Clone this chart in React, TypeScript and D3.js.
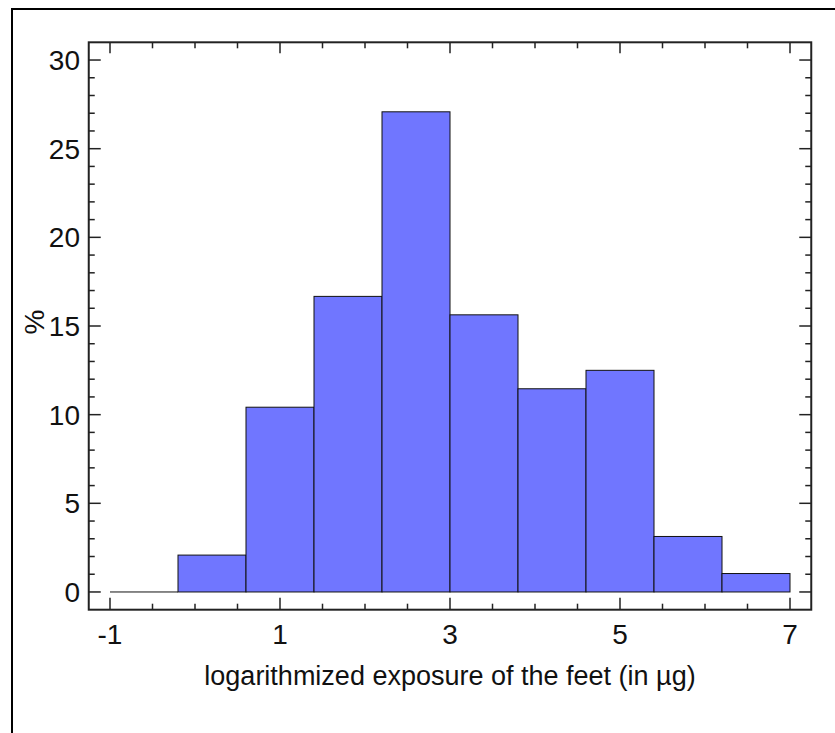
import React from "react";
import * as d3 from "d3";

const binEdges = [-1, -0.2, 0.6, 1.4, 2.2, 3.0, 3.8, 4.6, 5.4, 6.2, 7.0];
const percentages = [0, 2.08, 10.42, 16.67, 27.08, 15.63, 11.46, 12.5, 3.13, 1.04];
const xMajorTicks = [-1, 1, 3, 5, 7];
const yMajorTicks = [0, 5, 10, 15, 20, 25, 30];
const xLabel = "logarithmized exposure of the feet (in µg)";
const yLabel = "%";

const W = 835;
const H = 733;
const FONT = "'Liberation Sans', Arial, Helvetica, sans-serif";

export default function App() {
  const x = d3.scaleLinear().domain([-1.25, 7.25]).range([88.75, 811.25]);
  const y = d3.scaleLinear().domain([-1, 31]).range([609.7, 42.3]);
  const [x0, x1] = x.range();
  const [yb, yt] = y.range();

  const xMinor = d3.range(-1, 7.01, 0.5).filter((v) => !xMajorTicks.some((m) => Math.abs(m - v) < 1e-6));
  const yMinor = d3.range(0, 31, 1).filter((v) => !yMajorTicks.includes(v));

  const axisColor = "#222";
  const bars = percentages.map((p, i) => ({ a: binEdges[i], b: binEdges[i + 1], p }));

  return (
    <div style={{ position: "absolute", left: 0, top: 0 }}>
      <svg width={W} height={H} style={{ display: "block", background: "#fff" }}>
        {/* outer frame */}
        <line x1={11} y1={9} x2={W + 5} y2={9} stroke="#000" strokeWidth={2} />
        <line x1={12} y1={8} x2={12} y2={H + 5} stroke="#000" strokeWidth={2} />

        {/* bars */}
        {bars.map((d, i) =>
          d.p > 0 ? (
            <rect
              key={i}
              x={x(d.a)}
              y={y(d.p)}
              width={x(d.b) - x(d.a)}
              height={y(0) - y(d.p)}
              fill="#7076FF"
              stroke="#111"
              strokeWidth={1}
            />
          ) : (
            <line key={i} x1={x(d.a)} x2={x(d.b)} y1={y(0)} y2={y(0)} stroke="#111" strokeWidth={1} />
          )
        )}

        {/* plot box */}
        <rect x={x0} y={yt} width={x1 - x0} height={yb - yt} fill="none" stroke={axisColor} strokeWidth={2} />

        {/* x ticks bottom & top */}
        {xMajorTicks.map((v) => (
          <g key={"xM" + v}>
            <line x1={x(v)} x2={x(v)} y1={yb} y2={yb - 12} stroke={axisColor} strokeWidth={1.5} />
            <line x1={x(v)} x2={x(v)} y1={yt} y2={yt + 11} stroke={axisColor} strokeWidth={1.5} />
            <text x={x(v)} y={644} textAnchor="middle" fontFamily={FONT} fontSize={28} fill="#111">
              {v}
            </text>
          </g>
        ))}
        {xMinor.map((v) => (
          <g key={"xm" + v}>
            <line x1={x(v)} x2={x(v)} y1={yb} y2={yb - 6} stroke={axisColor} strokeWidth={1.5} />
            <line x1={x(v)} x2={x(v)} y1={yt} y2={yt + 6} stroke={axisColor} strokeWidth={1.5} />
          </g>
        ))}

        {/* y ticks left & right */}
        {yMajorTicks.map((v) => (
          <g key={"yM" + v}>
            <line x1={x0} x2={x0 + 12} y1={y(v)} y2={y(v)} stroke={axisColor} strokeWidth={1.5} />
            <line x1={x1} x2={x1 - 12} y1={y(v)} y2={y(v)} stroke={axisColor} strokeWidth={1.5} />
            <text x={80} y={y(v)} dy="0.36em" textAnchor="end" fontFamily={FONT} fontSize={28} fill="#111">
              {v}
            </text>
          </g>
        ))}
        {yMinor.map((v) => (
          <g key={"ym" + v}>
            <line x1={x0} x2={x0 + 6} y1={y(v)} y2={y(v)} stroke={axisColor} strokeWidth={1.5} />
            <line x1={x1} x2={x1 - 6} y1={y(v)} y2={y(v)} stroke={axisColor} strokeWidth={1.5} />
          </g>
        ))}

        {/* axis titles */}
        <text x={(x0 + x1) / 2} y={685} textAnchor="middle" fontFamily={FONT} fontSize={27} fill="#111">
          {xLabel}
        </text>
        <text
          transform={`translate(44, 322) rotate(-90)`}
          textAnchor="middle"
          fontFamily={FONT}
          fontSize={28}
          fill="#111"
        >
          {yLabel}
        </text>
      </svg>
    </div>
  );
}
